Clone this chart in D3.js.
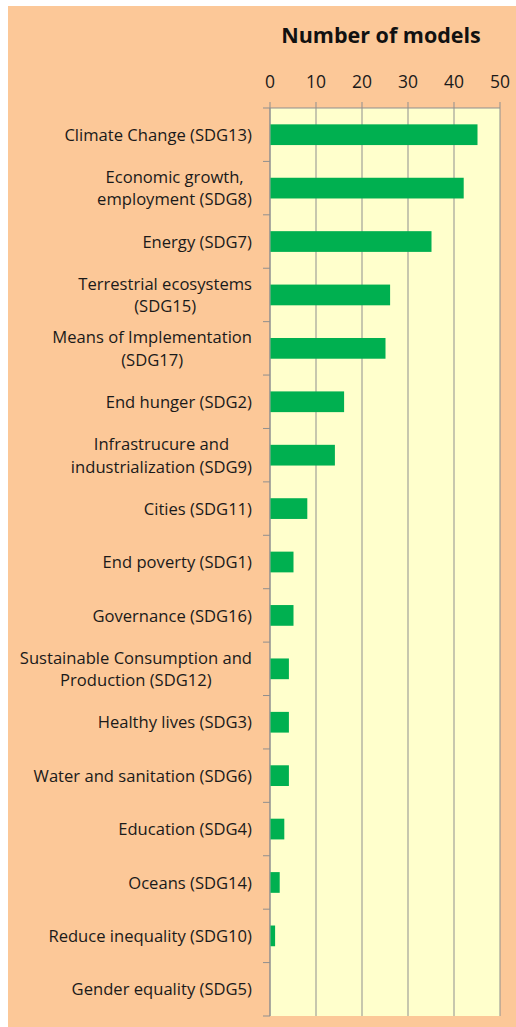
<!DOCTYPE html>
<html><head><meta charset="utf-8">
<script src="https://cdn.jsdelivr.net/npm/d3@7"></script>
<style>html,body{margin:0;padding:0;background:#fff;}svg{display:block;}</style>
</head><body>
<svg id="chart" width="516" height="1027"></svg>
<script>
const categories = [
  "Climate Change (SDG13)",
  "Economic growth,\nemployment (SDG8)",
  "Energy (SDG7)",
  "Terrestrial ecosystems\n(SDG15)",
  "Means of Implementation\n(SDG17)",
  "End hunger (SDG2)",
  "Infrastrucure and\nindustrialization (SDG9)",
  "Cities (SDG11)",
  "End poverty (SDG1)",
  "Governance (SDG16)",
  "Sustainable Consumption and\nProduction (SDG12)",
  "Healthy lives (SDG3)",
  "Water and sanitation (SDG6)",
  "Education (SDG4)",
  "Oceans (SDG14)",
  "Reduce inequality (SDG10)",
  "Gender equality (SDG5)"
];
const values = [45, 42, 35, 26, 25, 16, 14, 8, 5, 5, 4, 4, 4, 3, 2, 1, 0];
const xTicks = [0, 10, 20, 30, 40, 50];
const title = "Number of models";

const svg = d3.select("#chart");
const W = 516, H = 1027;
const plot = {left: 270, right: 500, top: 108, bottom: 1016};
const font = "'Open Sans', sans-serif";
const gridColor = "#8f8f8f";

svg.append("rect").attr("x", 0).attr("y", 0).attr("width", W).attr("height", H).attr("fill", "#fff");
svg.append("rect").attr("x", 8).attr("y", 6).attr("width", W - 8).attr("height", H - 6).attr("fill", "#FCC898");

const x = d3.scaleLinear().domain([0, 50]).range([plot.left, plot.right]);
const y = d3.scaleBand().domain(categories).range([plot.top, plot.bottom]).paddingInner(0.612).paddingOuter(0.306);
const yb = d3.scaleBand().domain(categories).range([plot.top, plot.bottom]);

svg.append("rect").attr("x", plot.left).attr("y", plot.top)
  .attr("width", plot.right - plot.left).attr("height", plot.bottom - plot.top).attr("fill", "#FFFFCC");

// gridlines
svg.append("g").selectAll("line").data(xTicks).join("line")
  .attr("x1", d => x(d)).attr("x2", d => x(d))
  .attr("y1", plot.top - 6).attr("y2", plot.bottom)
  .attr("stroke", gridColor).attr("stroke-width", 1);

// top axis line
svg.append("line").attr("x1", plot.left).attr("x2", plot.right)
  .attr("y1", plot.top).attr("y2", plot.top).attr("stroke", gridColor);

// left axis ticks at band boundaries
const bounds = categories.map(c => yb(c)).concat([plot.bottom]);
svg.append("g").selectAll("line").data(bounds).join("line")
  .attr("x1", plot.left - 7).attr("x2", plot.left)
  .attr("y1", d => d).attr("y2", d => d)
  .attr("stroke", gridColor);
svg.append("line").attr("x1", plot.left).attr("x2", plot.left)
  .attr("y1", plot.top).attr("y2", plot.bottom).attr("stroke", gridColor);

// bars
svg.append("g").selectAll("rect").data(categories).join("rect")
  .attr("x", x(0) + 0.5)
  .attr("y", d => y(d))
  .attr("width", (d, i) => x(values[i]) - x(0))
  .attr("height", y.bandwidth())
  .attr("fill", "#00B050");

// tick labels
svg.append("g").selectAll("text").data(xTicks).join("text")
  .attr("x", d => x(d)).attr("y", 88)
  .attr("text-anchor", "middle")
  .attr("font-family", font).attr("font-size", 17.5)
  .attr("fill", "#1a1a1a")
  .text(d => d);

// title
svg.append("text").attr("x", 381).attr("y", 43)
  .attr("text-anchor", "middle")
  .attr("font-family", font).attr("font-size", 21.5).attr("font-weight", "bold")
  .attr("fill", "#111")
  .text(title);

// category labels
const labelRight = 252;
const lineH = 22.5;
const lg = svg.append("g");
categories.forEach(c => {
  const lines = c.split("\n");
  const cy = yb(c) + yb.bandwidth() / 2;
  const g = lg.append("g");
  const texts = lines.map((ln, i) => g.append("text")
    .attr("y", cy + (i - (lines.length - 1) / 2) * lineH + 6.1)
    .attr("font-family", font).attr("font-size", 16.6)
    .attr("fill", "#1a1a1a")
    .attr("text-anchor", "middle")
    .text(ln));
  const maxW = d3.max(texts, t => t.node().getComputedTextLength());
  texts.forEach(t => t.attr("x", labelRight - maxW / 2));
});
</script>
</body></html>
